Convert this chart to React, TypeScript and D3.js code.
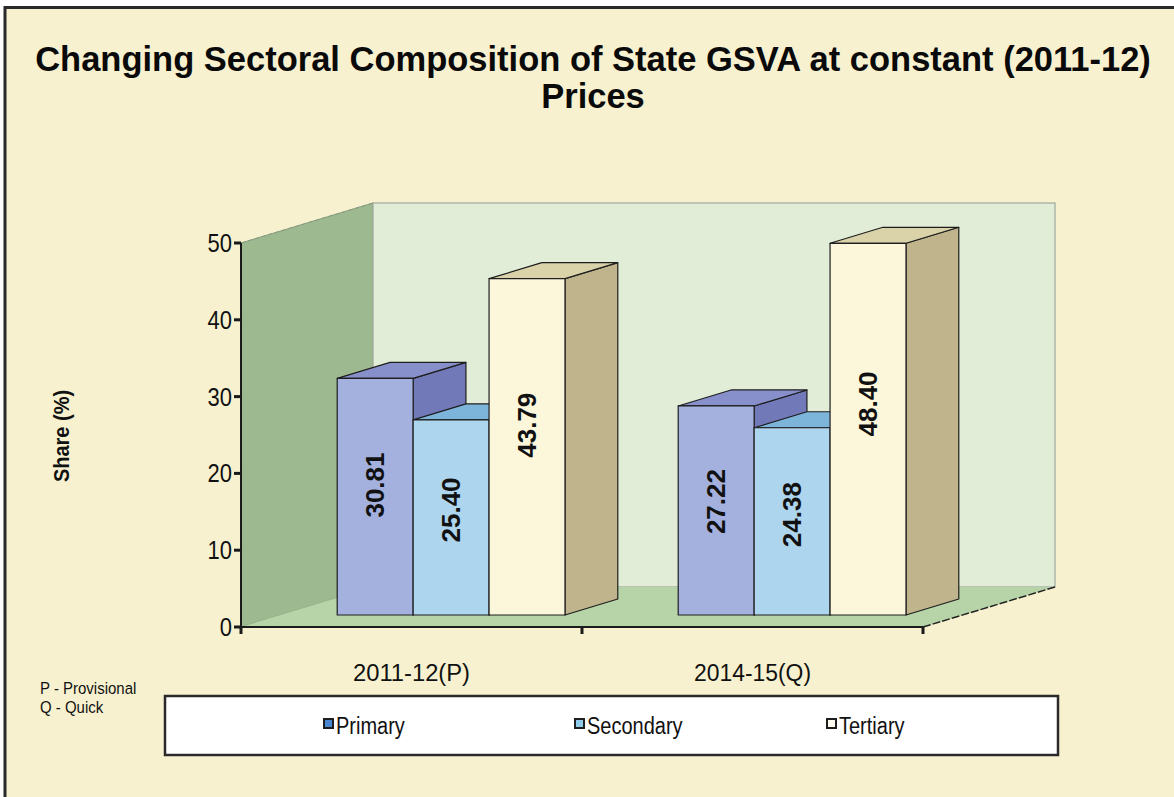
import React from "react";
import * as d3 from "d3";

const categories = ["2011-12(P)", "2014-15(Q)"];
const seriesNames = ["Primary", "Secondary", "Tertiary"];
const primary = [30.81, 27.22];
const secondary = [25.4, 24.38];
const tertiary = [43.79, 48.4];
const yTicks = [0, 10, 20, 30, 40, 50];
const titleLines = ["Changing Sectoral Composition of State GSVA at constant (2011-12)", "Prices"];
const footnotes = ["P - Provisional", "Q - Quick"];

const seriesValues = [primary, secondary, tertiary];

const colors = [
  { front: "#A4B1DF", top: "#8890CC", side: "#7179B8", marker: "#4A86CF" },
  { front: "#AED5EE", top: "#7DB4DA", side: "#6FA3C9", marker: "#8FCBEA" },
  { front: "#FCF7DB", top: "#DAD3A9", side: "#BFB48B", marker: "#FFFDF0" },
];

const W = 1174;
const H = 797;
const X0 = 241;
const X1 = 923;
const Y0 = 627;
const Y50 = 243;
const DX = 132;
const DY = -40;
const FRONT_D = 0.3;
const BACK_D = 0.7;

export default function App() {
  const x0 = d3.scaleBand<string>().domain(categories).range([X0, X1]);
  const groupW = x0.bandwidth() * 0.668;
  const x1 = d3.scaleBand<string>().domain(seriesNames).range([0, groupW]);
  const y = d3.scaleLinear().domain([0, 50]).range([Y0, Y50]);

  const fdx = DX * FRONT_D;
  const fdy = DY * FRONT_D;
  const bdx = DX * (BACK_D - FRONT_D);
  const bdy = DY * (BACK_D - FRONT_D);

  const pts = (arr: number[][]) => arr.map((p) => p.join(",")).join(" ");

  const bars: React.ReactNode[] = [];
  const labels: React.ReactNode[] = [];
  categories.forEach((cat, ci) => {
    const gx = (x0(cat) as number) + (x0.bandwidth() - groupW) / 2 + fdx;
    seriesNames.forEach((s, si) => {
      const v = seriesValues[si][ci];
      const c = colors[si];
      const x = gx + (x1(s) as number);
      const w = x1.bandwidth();
      const top = y(v) + fdy;
      const bottom = y(0) + fdy;
      bars.push(
        <g key={`b-${ci}-${si}`} stroke="#1e1e1e" strokeWidth={1.2} strokeLinejoin="round">
          <polygon
            points={pts([
              [x + w, top],
              [x + w + bdx, top + bdy],
              [x + w + bdx, bottom + bdy],
              [x + w, bottom],
            ])}
            fill={c.side}
          />
          <polygon
            points={pts([
              [x, top],
              [x + w, top],
              [x + w + bdx, top + bdy],
              [x + bdx, top + bdy],
            ])}
            fill={c.top}
          />
          <rect x={x} y={top} width={w} height={bottom - top} fill={c.front} />
        </g>
      );
      const lx = x + w / 2;
      const ly = y(v * 0.6);
      labels.push(
        <text
          key={`l-${ci}-${si}`}
          transform={`translate(${lx},${ly}) rotate(-90)`}
          textAnchor="middle"
          dominantBaseline="central"
          fontWeight="bold"
          fontSize={26}
          fill="#111"
        >
          {v.toFixed(2)}
        </text>
      );
    });
  });

  const legendX = [323, 574, 826];
  const SY = 1.15;

  return (
    <svg
      width={W}
      height={H}
      style={{ position: "absolute", left: 0, top: 0, display: "block" }}
      fontFamily="Liberation Sans, Arial, sans-serif"
    >
      <rect x={0} y={0} width={W} height={H} fill="#ffffff" />
      <rect x={5} y={7.5} width={W + 20} height={H + 20} fill="#F7F1D0" stroke="#2a2a2a" strokeWidth={3} />

      {/* Title */}
      {titleLines.map((t, i) => (
        <text
          key={t}
          x={593}
          y={71 + i * 37}
          textAnchor="middle"
          fontWeight="bold"
          fontSize={34.5}
          fill="#0a0a0a"
        >
          {t}
        </text>
      ))}

      {/* 3D walls */}
      <polygon
        points={pts([
          [X0, Y50],
          [X0 + DX, Y50 + DY],
          [X0 + DX, Y0 + DY],
          [X0, Y0],
        ])}
        fill="#9DB98F"
        stroke="#8aa37d"
        strokeWidth={1}
      />
      <rect
        x={X0 + DX}
        y={Y50 + DY}
        width={X1 - X0}
        height={Y0 - Y50}
        fill="#E1EDD6"
        stroke="#a0a8a0"
        strokeWidth={1.2}
      />
      <polygon
        points={pts([
          [X0, Y0],
          [X1, Y0],
          [X1 + DX, Y0 + DY],
          [X0 + DX, Y0 + DY],
        ])}
        fill="#B7D4A8"
      />
      <line x1={X0} y1={Y50} x2={X0 + DX} y2={Y50 + DY} stroke="#8a9a88" strokeWidth={1} strokeDasharray="5,2" />
      <line x1={X1} y1={Y0} x2={X1 + DX} y2={Y0 + DY} stroke="#222" strokeWidth={1.5} strokeDasharray="8,2" />

      {/* Bars */}
      {bars}
      {labels}

      {/* Axes */}
      <line x1={X0} y1={Y50} x2={X0} y2={Y0} stroke="#1a1a1a" strokeWidth={2} />
      <line x1={X0} y1={Y0} x2={X1} y2={Y0} stroke="#1a1a1a" strokeWidth={2} />
      {yTicks.map((t) => (
        <g key={`yt-${t}`}>
          <line x1={X0 - 7} x2={X0} y1={y(t)} y2={y(t)} stroke="#1a1a1a" strokeWidth={3} />
          <text
            transform={`translate(232,${y(t) + 9}) scale(1,1.2)`}
            textAnchor="end"
            fontSize={22}
            fill="#111"
          >
            {t}
          </text>
        </g>
      ))}
      {[X0, X0 + x0.bandwidth(), X1].map((tx, i) => (
        <line key={`xt-${i}`} x1={tx} x2={tx} y1={Y0} y2={Y0 + 7} stroke="#1a1a1a" strokeWidth={3} />
      ))}
      {categories.map((c) => (
        <text
          key={c}
          transform={`translate(${(x0(c) as number) + x0.bandwidth() / 2},681) scale(1,${SY})`}
          textAnchor="middle"
          fontSize={21}
          textLength={117}
          lengthAdjust="spacingAndGlyphs"
          fill="#111"
        >
          {c}
        </text>
      ))}

      {/* Y axis title */}
      <text
        transform="translate(69,436) rotate(-90) scale(1,1.1)"
        textAnchor="middle"
        fontWeight="bold"
        fontSize={20}
        fill="#111"
      >
        Share (%)
      </text>

      {/* Footnotes */}
      {footnotes.map((f, i) => (
        <text key={f} transform={`translate(40,${694 + i * 19}) scale(1,1.1)`} fontSize={15} fill="#111">
          {f}
        </text>
      ))}

      {/* Legend */}
      <rect x={165} y={696} width={893} height={59} fill="#ffffff" stroke="#2a2a2a" strokeWidth={2.5} />
      {seriesNames.map((s, i) => (
        <g key={s}>
          <rect
            x={legendX[i] + 1}
            y={719}
            width={9}
            height={9}
            fill={colors[i].marker}
            stroke="#1e1e1e"
            strokeWidth={2}
          />
          <text transform={`translate(${legendX[i] + 13},734) scale(1,${SY})`} fontSize={20} fill="#111">
            {s}
          </text>
        </g>
      ))}
    </svg>
  );
}
